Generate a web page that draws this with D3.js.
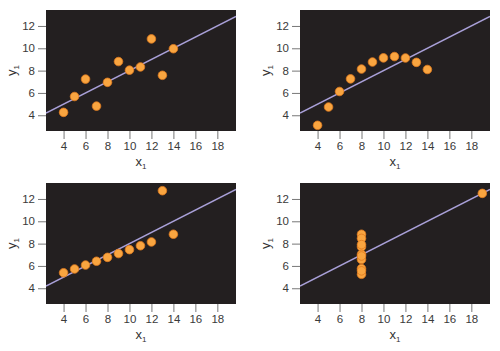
<!DOCTYPE html>
<html>
<head>
<meta charset="utf-8">
<script src="https://cdn.jsdelivr.net/npm/d3@7"></script>
<style>
body { margin: 0; background: white; }
.tick text { font-family: "Liberation Sans", Arial, sans-serif; font-size: 11.5px; fill: #3a3a3a; }
</style>
</head>
<body>
<div id="vizContainer"></div>
<script>
let w = 500;
let h = 351;

// anscombe quartet
let x123 = [10, 8, 13, 9, 11, 14, 6, 4, 12, 7, 5];
let x4 = [8, 8, 8, 8, 8, 8, 8, 19, 8, 8, 8];
let y1 = [8.04, 6.95, 7.58, 8.81, 8.33, 9.96, 7.24, 4.26, 10.84, 4.82, 5.68];
let y2 = [9.14, 8.14, 8.74, 8.77, 9.26, 8.10, 6.13, 3.10, 9.13, 7.26, 4.74];
let y3 = [7.46, 6.77, 12.74, 7.11, 7.81, 8.84, 6.08, 5.39, 8.15, 6.42, 5.73];
let y4 = [6.58, 5.76, 7.71, 8.84, 8.47, 7.04, 5.25, 12.50, 5.56, 7.91, 6.89];

let xTicks = [4, 6, 8, 10, 12, 14, 16, 18];
let yTicks = [4, 6, 8, 10, 12];

// fit line y = 3 + 0.5x, same for all four
let fitLine = [3, 0.5];

let panels = [
	{xs: x123, ys: y1, left: 46, top: 10},
	{xs: x123, ys: y2, left: 300, top: 10},
	{xs: x123, ys: y3, left: 46, top: 183},
	{xs: x4, ys: y4, left: 300, top: 183}
];

let pw = 190;
let ph = 121;

let viz = d3.select('#vizContainer').append('svg')
	.attr('width', w)
	.attr('height', h)
	.style('display', 'block')
	;

let xScale = d3.scaleLinear().domain([2.4, 19.7]).range([0, pw]);
let yScale = d3.scaleLinear().domain([2.59, 13.43]).range([ph, 0]);

panels.forEach(function(p, k){
	let g = viz.append('g').attr('transform', 'translate(' + p.left + ',' + p.top + ')');

	g.append('rect')
		.attr('width', pw)
		.attr('height', ph)
		.attr('fill', '#231f20');

	let clipId = 'clip' + k;
	g.append('clipPath').attr('id', clipId)
		.append('rect').attr('width', pw).attr('height', ph);

	let xAxis = g.append('g')
		.attr('transform', 'translate(0,' + ph + ')')
		.call(d3.axisBottom(xScale).tickValues(xTicks).tickSize(8).tickPadding(3));
	let yAxis = g.append('g')
		.call(d3.axisLeft(yScale).tickValues(yTicks).tickSize(8).tickPadding(3));

	[xAxis, yAxis].forEach(function(a){
		a.select('.domain').remove();
		a.selectAll('.tick line').attr('stroke', '#777');
	});

	let d = xScale.domain();
	g.append('line')
		.attr('clip-path', 'url(#' + clipId + ')')
		.attr('x1', xScale(d[0]))
		.attr('y1', yScale(fitLine[0] + fitLine[1] * d[0]))
		.attr('x2', xScale(d[1]))
		.attr('y2', yScale(fitLine[0] + fitLine[1] * d[1]))
		.attr('stroke', '#a9a0d8')
		.attr('stroke-width', 1.6);

	let pts = p.xs.map(function(x, i){ return [x, p.ys[i]]; });
	g.selectAll('.datapoint').data(pts).enter()
		.append('circle')
		.attr('class', 'datapoint')
		.attr('cx', function(d){ return xScale(d[0]); })
		.attr('cy', function(d){ return yScale(d[1]); })
		.attr('r', 4.3)
		.attr('fill', '#f9a540')
		.attr('stroke', '#e07a1e')
		.attr('stroke-width', 0.8);

	let xl = g.append('text')
		.attr('x', pw / 2)
		.attr('y', ph + 35)
		.attr('text-anchor', 'middle')
		.style('font-family', '"Liberation Sans", Arial, sans-serif')
		.style('font-size', '13px')
		.attr('fill', '#333');
	xl.append('tspan').text('x');
	xl.append('tspan').attr('dy', 3).style('font-size', '8px').text('1');

	let yl = g.append('text')
		.attr('transform', 'translate(-30,' + (ph / 2) + ') rotate(-90)')
		.attr('text-anchor', 'middle')
		.style('font-family', '"Liberation Sans", Arial, sans-serif')
		.style('font-size', '13px')
		.attr('fill', '#333');
	yl.append('tspan').text('y');
	yl.append('tspan').attr('dy', 3).style('font-size', '8px').text('1');
});
</script>
</body>
</html>
